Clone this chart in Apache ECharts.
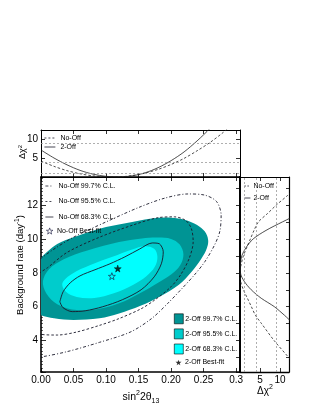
<!DOCTYPE html>
<html><head><meta charset="utf-8">
<script src="https://cdn.jsdelivr.net/npm/echarts@6/dist/echarts.min.js"></script>
<style>html,body{margin:0;padding:0;background:#fff}#c{width:316px;height:409px}</style>
</head><body><div id="c"></div>
<script>
// ---------- data ----------
// main panel contours: [sin^2 2theta13, background rate]
const twoOff997 = [[-0.02,8.1],[-0.005,8.7],[0.01,9.25],[0.025,9.7],[0.05,10.1],[0.09,10.6],[0.13,10.92],[0.17,11.2],[0.2,11.25],[0.222,11.12],[0.24,10.82],[0.252,10.43],[0.257,9.94],[0.255,9.45],[0.247,8.86],[0.232,8.08],[0.212,7.3],[0.183,6.6],[0.153,6.05],[0.12,5.6],[0.09,5.32],[0.05,5.22],[0.02,5.32],[-0.005,5.6],[-0.02,6.3]];
const twoOff955 = [[0.003,7.5],[0.012,8.2],[0.035,8.8],[0.07,9.3],[0.12,9.82],[0.155,10.03],[0.18,10.08],[0.2,10.0],[0.213,9.68],[0.219,9.1],[0.214,8.45],[0.2,7.9],[0.18,7.42],[0.152,6.8],[0.12,6.2],[0.09,5.88],[0.055,5.8],[0.025,6.15],[0.008,6.8]];
const twoOff683 = [[0.033,7.4],[0.048,7.95],[0.075,8.45],[0.11,8.95],[0.14,9.38],[0.16,9.57],[0.174,9.42],[0.179,8.95],[0.175,8.35],[0.162,7.8],[0.142,7.3],[0.112,6.8],[0.082,6.52],[0.055,6.58],[0.038,6.9]];
const noOff683 = [[0.029,6.29],[0.034,6.88],[0.045,7.41],[0.06,7.82],[0.083,8.18],[0.106,8.53],[0.129,8.94],[0.152,9.41],[0.171,9.76],[0.182,9.71],[0.188,9.24],[0.185,8.53],[0.174,7.76],[0.154,7.0],[0.125,6.41],[0.095,6.0],[0.068,5.76],[0.048,5.71],[0.034,5.94],[0.029,6.29]];
const noOff955 = [[-0.02,7.5],[0.0,8.05],[0.01,8.3],[0.04,9.2],[0.09,10.1],[0.14,10.8],[0.18,11.25],[0.205,11.3],[0.222,11.1],[0.231,10.63],[0.234,9.84],[0.228,8.86],[0.215,7.9],[0.2,7.18],[0.175,6.4],[0.154,5.88],[0.12,5.3],[0.09,4.9],[0.054,4.5],[0.025,4.33],[0.0,4.37],[-0.02,4.6]];
const noOff997 = [[-0.02,8.2],[0.0,8.85],[0.02,9.4],[0.05,10.1],[0.1,11.0],[0.15,11.85],[0.19,12.4],[0.226,12.65],[0.252,12.58],[0.27,12.2],[0.277,11.4],[0.275,10.45],[0.267,9.65],[0.252,8.66],[0.236,7.88],[0.215,7.0],[0.195,6.2],[0.17,5.3],[0.137,4.5],[0.09,3.9],[0.04,3.35],[0.0,3.04],[-0.02,3.0]];
const noOffBest = [0.109, 7.8];
const twoOffBest = [0.118, 8.25];

// top panel: delta chi2 vs sin^2 2theta13
const sinVals  = [0,0.02,0.04,0.06,0.08,0.10,0.12,0.14,0.16,0.18,0.20,0.22,0.24,0.26,0.28,0.30];
const top2Off  = [7.1,5.0,3.2,1.75,0.75,0.17,0.0,0.3,1.1,2.45,4.3,6.6,9.5,12.8,16.5,20.5];
const topNoOff = [4.2,2.8,1.68,0.85,0.3,0.03,0.04,0.38,1.04,2.0,3.3,4.9,6.9,9.1,11.7,14.6];

// right panel: delta chi2 vs background rate
const bgVals     = [2.5,3,4,5,5.5,6,6.5,7,7.5,8,8.5,9,9.5,10,10.5,11,11.5,12,12.5,13];
const right2Off  = [33,27,21,13.5,11.1,8.6,5.3,2.8,1.05,0.12,0.1,0.45,1.55,3.3,6.5,10.6,15,20,25,31];
const rightNoOff = [14,12.2,8.55,5.4,3.85,2.85,1.85,0.85,0.15,0.03,0.3,0.85,1.7,2.6,3.5,4.6,6.9,9.1,11.6,14];

const chiLevels = [1, 4, 9];

// ---------- layout / style ----------
const FONT = 'Liberation Sans';
const X_MIN = 0, X_MAX = 0.306, Y_MIN = 2.15, Y_MAX = 13.65, TOP_MAX = 12.37, RIGHT_MAX = 12.25;
const STAR = 'path://M0,-10 L2.35,-3.24 L9.51,-3.09 L3.8,1.24 L5.88,8.09 L0,4 L-5.88,8.09 L-3.8,1.24 L-9.51,-3.09 L-2.35,-3.24 Z';
const DASH = [2.5, 2];
const DASHDOT = [3, 2, 1, 2];
const LINE_COL = '#1a1a2a';

function axLine(w){ return {show:true, onZero:false, lineStyle:{color:'#000', width:w}}; }
function ticks(len){ return {show:true, inside:true, length:len, lineStyle:{color:'#000', width:0.8}}; }

function polyRender(points){
  return function(params, api){
    if (params.dataIndex !== 0) return null;
    const pts = points.map(p => api.coord(p));
    return {type:'polygon', shape:{points:pts, smooth:0.35}, style:{fill:api.visual('color'), stroke:null}};
  };
}
function fillSeries(name, pts, color){
  return {name, type:'custom', xAxisIndex:2, yAxisIndex:2, clip:true, data:pts, encode:{x:0,y:1},
    itemStyle:{color, borderColor:'#000', borderWidth:0.6}, renderItem:polyRender(pts), silent:true};
}
function contourLine(name, pts, type){
  return {name, type:'line', xAxisIndex:2, yAxisIndex:2, data:pts, symbol:'none', smooth:0.3, clip:true,
    itemStyle:{color:LINE_COL}, lineStyle:{color:LINE_COL, width:0.9, type}};
}
function legLine(name, type){ return {name, lineStyle:{type, width:0.8, color:LINE_COL}}; }
const refLine = {silent:true, symbol:['none','none'], label:{show:false}, animation:false,
  lineStyle:{type:[2,2], color:'#9a9a9a', width:0.8}};
const legText = {fontSize:7, color:'#000', fontFamily:FONT};

const xFmt = v => Math.abs(v - 0.3) < 1e-9 ? '0.3' : v.toFixed(2);

const option = {
  animation:false,
  textStyle:{fontFamily:FONT},
  grid:[
    {left:41, top:130, width:199, height:47},
    {left:41, top:177, width:199, height:195},
    {left:240, top:177, width:49, height:195}
  ],
  xAxis:[
    {gridIndex:0, type:'value', min:X_MIN, max:X_MAX, splitNumber:6, position:'bottom', axisLine:axLine(1), axisTick:ticks(4), axisLabel:{show:false}, splitLine:{show:false}},
    {gridIndex:0, type:'value', min:X_MIN, max:X_MAX, splitNumber:6, position:'top', axisLine:axLine(1), axisTick:ticks(4), axisLabel:{show:false}, splitLine:{show:false}},
    {gridIndex:1, type:'value', min:X_MIN, max:X_MAX, splitNumber:6, position:'bottom', axisLine:axLine(1.6), axisTick:ticks(4),
      axisLabel:{show:true, fontSize:10, color:'#000', margin:3, showMaxLabel:false, formatter:xFmt}, splitLine:{show:false}},
    {gridIndex:1, type:'value', min:X_MIN, max:X_MAX, splitNumber:6, position:'top', axisLine:axLine(1.6), axisTick:ticks(4), axisLabel:{show:false}, splitLine:{show:false}},
    {gridIndex:2, type:'value', min:0, max:RIGHT_MAX, splitNumber:3, position:'bottom', axisLine:axLine(1.4), axisTick:ticks(4),
      axisLabel:{show:true, fontSize:10, color:'#000', margin:3, showMinLabel:false, showMaxLabel:false}, splitLine:{show:false}},
    {gridIndex:2, type:'value', min:0, max:RIGHT_MAX, splitNumber:3, position:'top', axisLine:axLine(1.2), axisTick:ticks(4), axisLabel:{show:false}, splitLine:{show:false}}
  ],
  yAxis:[
    {gridIndex:0, type:'value', min:0, max:TOP_MAX, splitNumber:3, position:'left', axisLine:axLine(1), axisTick:ticks(4),
      axisLabel:{show:true, fontSize:10, color:'#000', margin:3, showMinLabel:false, showMaxLabel:false}, splitLine:{show:false}},
    {gridIndex:0, type:'value', min:0, max:TOP_MAX, splitNumber:3, position:'right', axisLine:axLine(1), axisTick:ticks(4), axisLabel:{show:false}, splitLine:{show:false}},
    {gridIndex:1, type:'value', min:Y_MIN, max:Y_MAX, splitNumber:5, position:'left', axisLine:axLine(1.6), axisTick:ticks(5),
      minorTick:{show:true, splitNumber:10, length:2, lineStyle:{color:'#000', width:0.6}},
      axisLabel:{show:true, fontSize:10, color:'#000', margin:3, showMinLabel:false, showMaxLabel:false}, splitLine:{show:false}},
    {gridIndex:1, type:'value', min:Y_MIN, max:Y_MAX, splitNumber:10, position:'right', axisLine:axLine(1.8), axisTick:ticks(4), axisLabel:{show:false}, splitLine:{show:false}},
    {gridIndex:2, type:'value', min:Y_MIN, max:Y_MAX, splitNumber:10, position:'left', axisLine:axLine(1.8), axisTick:{show:false}, axisLabel:{show:false}, splitLine:{show:false}},
    {gridIndex:2, type:'value', min:Y_MIN, max:Y_MAX, splitNumber:10, position:'right', axisLine:axLine(1.2), axisTick:ticks(3), axisLabel:{show:false}, splitLine:{show:false}}
  ],
  legend:[
    {data:[legLine('No-Off 99.7% C.L.', DASHDOT), legLine('No-Off 95.5% C.L.', [2,2]), legLine('No-Off 68.3% C.L.', 'solid')], orient:'vertical', left:45, top:182.5,
      itemWidth:8, itemHeight:7, itemGap:8.5, padding:0, selectedMode:false, itemStyle:{opacity:0}, lineStyle:{width:0.8}, textStyle:legText},
    {data:[{name:'No-Off Best-fit', itemStyle:{color:'rgba(0,0,0,0)', borderColor:'#1a1a40', borderWidth:0.8}}], left:46, top:227.5,
      itemWidth:6.5, itemHeight:6.5, padding:0, selectedMode:false, textStyle:Object.assign({padding:[0,0,0,-1]}, legText)},
    {data:[{name:'2-Off 99.7% C.L.', icon:'rect'},{name:'2-Off 95.5% C.L.', icon:'rect'},{name:'2-Off 68.3% C.L.', icon:'rect'}], orient:'vertical', left:174, top:313.5,
      itemWidth:9, itemHeight:10, itemGap:4.5, padding:0, selectedMode:false, itemStyle:{borderColor:'#000', borderWidth:0.6},
      textStyle:Object.assign({padding:[0,0,0,-3]}, legText)},
    {data:[{name:'2-Off Best-fit', itemStyle:{color:'#000', borderWidth:0}}], left:175.5, top:359, itemWidth:6, itemHeight:6, padding:0, selectedMode:false,
      textStyle:Object.assign({padding:[0,0,0,-1.5]}, legText)},
    {data:[legLine('No-Off', [2,2]), legLine('2-Off', 'solid')], orient:'vertical', left:44, top:134.5, itemWidth:11, itemHeight:5, itemGap:2, padding:0, selectedMode:false,
      itemStyle:{opacity:0}, lineStyle:{width:0.8}, textStyle:legText},
    {data:[legLine('No-Off', [1.5,1.5]), legLine('2-Off', 'solid')], orient:'vertical', left:244, top:182.5, itemWidth:6, itemHeight:6, itemGap:5, padding:0, selectedMode:false,
      itemStyle:{opacity:0}, lineStyle:{width:0.8}, textStyle:Object.assign({padding:[0,0,0,-2]}, legText)}
  ],
  series:[
    fillSeries('2-Off 99.7% C.L.', twoOff997, '#009494'),
    fillSeries('2-Off 95.5% C.L.', twoOff955, '#00CCCC'),
    fillSeries('2-Off 68.3% C.L.', twoOff683, '#00FFFF'),
    contourLine('No-Off 99.7% C.L.', noOff997, DASHDOT),
    contourLine('No-Off 95.5% C.L.', noOff955, DASH),
    contourLine('No-Off 68.3% C.L.', noOff683, 'solid'),
    {name:'No-Off Best-fit', type:'scatter', xAxisIndex:2, yAxisIndex:2, data:[noOffBest], symbol:STAR, symbolSize:7,
      itemStyle:{color:'rgba(0,0,0,0)', borderColor:'#1a1a40', borderWidth:0.8}, silent:true},
    {name:'2-Off Best-fit', type:'scatter', xAxisIndex:2, yAxisIndex:2, data:[twoOffBest], symbol:STAR, symbolSize:7,
      itemStyle:{color:'#000', borderColor:'#000', borderWidth:0.5}, silent:true},
    {name:'No-Off', type:'line', xAxisIndex:0, yAxisIndex:0, data:sinVals.map((s,i)=>[s, topNoOff[i]]), symbol:'none', smooth:0.3,
      itemStyle:{color:'#222'}, lineStyle:{color:'#222', width:0.8, type:DASH},
      markLine:Object.assign({data:chiLevels.map(v=>({yAxis:v}))}, refLine)},
    {name:'2-Off', type:'line', xAxisIndex:0, yAxisIndex:0, data:sinVals.map((s,i)=>[s, top2Off[i]]), symbol:'none', smooth:0.3,
      itemStyle:{color:'#222'}, lineStyle:{color:'#222', width:0.8, type:'solid'}},
    {name:'No-Off', type:'line', xAxisIndex:4, yAxisIndex:4, data:bgVals.map((b,i)=>[rightNoOff[i], b]), symbol:'none', smooth:0.3,
      itemStyle:{color:'#222'}, lineStyle:{color:'#222', width:0.8, type:DASH},
      markLine:Object.assign({data:chiLevels.map(v=>({xAxis:v}))}, refLine)},
    {name:'2-Off', type:'line', xAxisIndex:4, yAxisIndex:4, data:bgVals.map((b,i)=>[right2Off[i], b]), symbol:'none', smooth:0.3,
      itemStyle:{color:'#222'}, lineStyle:{color:'#222', width:0.8, type:'solid'}}
  ],
  graphic:[
    {type:'text', x:141, y:397, style:{text:'{a|sin}{sup|2}{a|2θ}{sub|13}', align:'center', verticalAlign:'middle',
      rich:{a:{fontSize:10.5, fontFamily:FONT, fill:'#000', lineHeight:15}, sup:{fontSize:7, fontFamily:FONT, fill:'#000', lineHeight:8, verticalAlign:'top'},
            sub:{fontSize:7, fontFamily:FONT, fill:'#000', lineHeight:8, verticalAlign:'bottom'}}}},
    {type:'text', x:265, y:391, style:{text:'{a|Δχ}{sup|2}', align:'center', verticalAlign:'middle',
      rich:{a:{fontSize:10, fontFamily:FONT, fill:'#000', lineHeight:14}, sup:{fontSize:7, fontFamily:FONT, fill:'#000', lineHeight:8, verticalAlign:'top'}}}},
    {type:'text', x:20, y:265, rotation:Math.PI/2, style:{text:'{a|Background rate (day}{sup|-1}{a|)}', align:'center', verticalAlign:'middle',
      rich:{a:{fontSize:9.5, fontFamily:FONT, fill:'#000', lineHeight:13}, sup:{fontSize:6.5, fontFamily:FONT, fill:'#000', lineHeight:7, verticalAlign:'top'}}}},
    {type:'text', x:23, y:152, rotation:Math.PI/2, style:{text:'{a|Δχ}{sup|2}', align:'center', verticalAlign:'middle',
      rich:{a:{fontSize:9, fontFamily:FONT, fill:'#000', lineHeight:12}, sup:{fontSize:6, fontFamily:FONT, fill:'#000', lineHeight:7, verticalAlign:'top'}}}}
  ]
};
const chart = echarts.init(document.getElementById('c'));
chart.setOption(option);
</script>
</body></html>
